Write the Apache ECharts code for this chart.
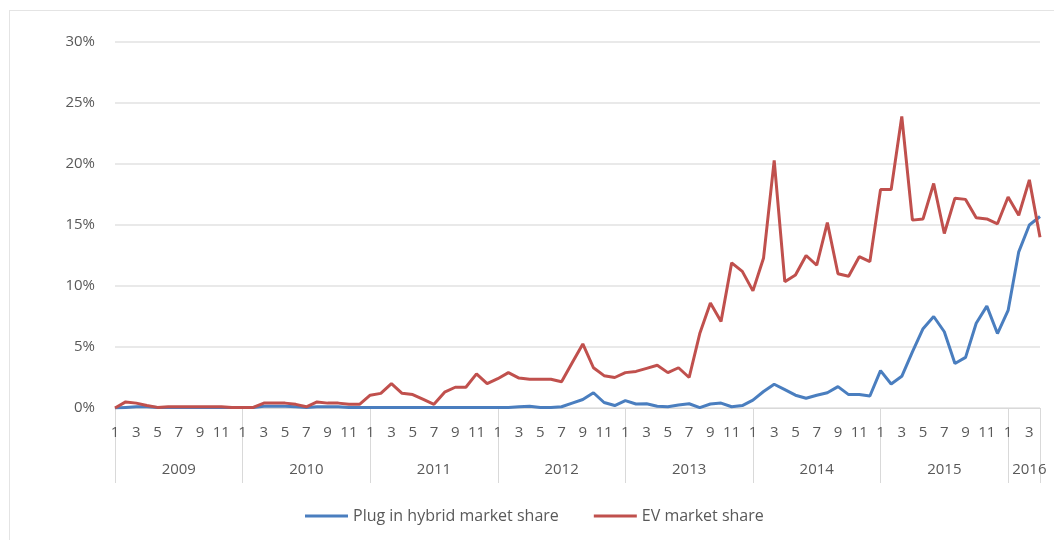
<!DOCTYPE html>
<html>
<head>
<meta charset="utf-8">
<script src="https://cdn.jsdelivr.net/npm/echarts@6/dist/echarts.min.js"></script>
<style>
  html, body { margin: 0; padding: 0; background: #fff; }
  #frame { position: absolute; left: 9px; top: 10px; width: 1200px; height: 700px; border: 1px solid #e4e4e4; }
  #chart { position: absolute; left: 0; top: 0; width: 1054px; height: 540px; }
</style>
</head>
<body>
<div id="frame"></div>
<div id="chart"></div>
<script>
const years = ['2009', '2010', '2011', '2012', '2013', '2014', '2015', '2016'];
const monthsPerYear = [12, 12, 12, 12, 12, 12, 12, 4];
const yTickValues = [0, 5, 10, 15, 20, 25, 30];

// Plug in hybrid market share (%), monthly Jan 2009 - Apr 2016
const phevShare = [
  0, 0.05, 0.1, 0.1, 0.05, 0.05, 0.05, 0.05, 0.05, 0.05, 0.05, 0.05,
  0.05, 0.05, 0.15, 0.15, 0.15, 0.1, 0.05, 0.1, 0.1, 0.1, 0.05, 0.05,
  0.05, 0.05, 0.05, 0.05, 0.05, 0.05, 0.05, 0.05, 0.05, 0.05, 0.05, 0.05,
  0.05, 0.05, 0.1, 0.15, 0.05, 0.05, 0.1, 0.4, 0.7, 1.25, 0.45, 0.2,
  0.6, 0.33, 0.35, 0.15, 0.1, 0.25, 0.35, 0.03, 0.33, 0.4, 0.1, 0.2,
  0.65, 1.35, 1.95, 1.5, 1.05, 0.8, 1.05, 1.25, 1.75, 1.1, 1.1, 0.98,
  3.06, 1.97, 2.6, 4.6, 6.5, 7.5, 6.25, 3.65, 4.15, 6.95, 8.35, 6.1,
  8.0, 12.8, 15.0, 15.7
];

// EV market share (%), monthly Jan 2009 - Apr 2016
const evShare = [
  0, 0.5, 0.4, 0.2, 0.05, 0.1, 0.1, 0.1, 0.1, 0.1, 0.1, 0.05,
  0.05, 0.05, 0.4, 0.4, 0.4, 0.3, 0.1, 0.5, 0.4, 0.4, 0.3, 0.3,
  1.05, 1.2, 2.0, 1.2, 1.1, 0.7, 0.3, 1.3, 1.7, 1.7, 2.8, 2.0,
  2.4, 2.9, 2.45, 2.35, 2.35, 2.35, 2.15, 3.7, 5.25, 3.3, 2.65, 2.5,
  2.9, 3.0, 3.25, 3.5, 2.9, 3.3, 2.5, 6.1, 8.6, 7.1, 11.9, 11.2,
  9.6, 12.3, 20.3, 10.35, 10.9, 12.5, 11.7, 15.2, 11.0, 10.8, 12.4, 12.0,
  17.9, 17.9, 23.9, 15.4, 15.5, 18.4, 14.3, 17.2, 17.1, 15.6, 15.5, 15.1,
  17.3, 15.8, 18.7, 14.0
];

// Build categories "year-month" and index info
const categories = [];
const catMonth = [];
const yearLabelIndex = {};
years.forEach((y, yi) => {
  const start = categories.length;
  for (let m = 1; m <= monthsPerYear[yi]; m++) {
    categories.push(y + '-' + m);
    catMonth.push(m);
  }
  yearLabelIndex[start + Math.floor(monthsPerYear[yi] / 2)] = true;
});
const lastIndex = categories.length - 1;

const textColor = '#595959';
const lineGray = '#d9d9d9';
const fontFamily = '"Open Sans", "Liberation Sans", sans-serif';

const chart = echarts.init(document.getElementById('chart'), null, { renderer: 'canvas' });
chart.setOption({
  animation: false,
  backgroundColor: 'transparent',
  color: ['#4a7ebf', '#c0504d'],
  grid: { left: 115, right: 14, top: 42, bottom: 132, containLabel: false },
  legend: {
    left: 300,
    top: 503,
    icon: 'rect',
    itemWidth: 43,
    itemHeight: 3,
    itemGap: 35,
    textStyle: { color: textColor, fontSize: 16, fontFamily: fontFamily, padding: [0, 0, 0, 0] },
    data: ['Plug in hybrid market share', 'EV market share']
  },
  xAxis: [
    {
      type: 'category',
      data: categories,
      boundaryGap: false,
      axisLine: { show: true, lineStyle: { color: lineGray, width: 1 } },
      axisTick: {
        show: true,
        length: 75,
        interval: (idx) => catMonth[idx] === 1 || idx === lastIndex,
        lineStyle: { color: lineGray, width: 1 }
      },
      axisLabel: {
        interval: (idx) => catMonth[idx] % 2 === 1,
        formatter: (v) => v.split('-')[1],
        color: textColor,
        fontSize: 15,
        fontFamily: fontFamily,
        margin: 17
      },
      splitLine: { show: false }
    },
    {
      type: 'category',
      data: categories,
      boundaryGap: false,
      position: 'bottom',
      axisLine: { show: false },
      axisTick: { show: false },
      axisLabel: {
        interval: (idx) => !!yearLabelIndex[idx],
        formatter: (v) => v.split('-')[0],
        color: textColor,
        fontSize: 15,
        fontFamily: fontFamily,
        margin: 54
      },
      splitLine: { show: false }
    }
  ],
  yAxis: {
    type: 'value',
    min: yTickValues[0],
    max: yTickValues[yTickValues.length - 1],
    interval: yTickValues[1] - yTickValues[0],
    axisLine: { show: false },
    axisTick: { show: false },
    axisLabel: {
      formatter: '{value}%',
      color: textColor,
      fontSize: 15,
      fontFamily: fontFamily,
      margin: 20
    },
    splitLine: { lineStyle: { color: '#e2e2e2', width: 1.5 } }
  },
  series: [
    {
      name: 'Plug in hybrid market share',
      type: 'line',
      data: phevShare,
      symbol: 'none',
      lineStyle: { width: 3 },
      z: 2
    },
    {
      name: 'EV market share',
      type: 'line',
      data: evShare,
      symbol: 'none',
      lineStyle: { width: 3 },
      z: 3
    }
  ]
});
</script>
</body>
</html>
